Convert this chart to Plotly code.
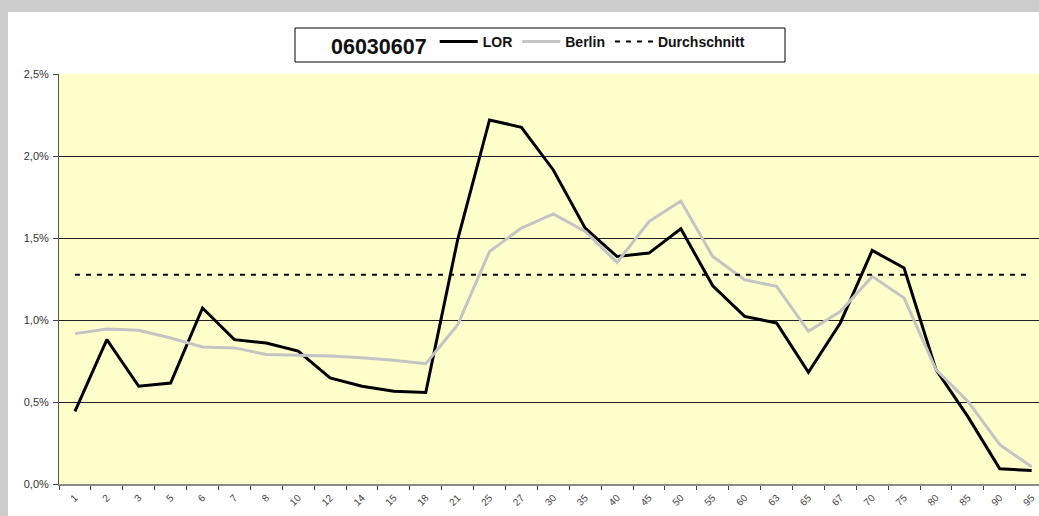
import plotly.graph_objects as go

# ---- data ----
age_groups = ["1", "2", "3", "5", "6", "7", "8", "10", "12", "14", "15", "18", "21", "25", "27",
              "30", "35", "40", "45", "50", "55", "60", "63", "65", "67", "70", "75", "80", "85",
              "90", "95"]
lor_values = [0.443, 0.88, 0.596, 0.616, 1.073, 0.88, 0.86, 0.81, 0.647, 0.596, 0.565, 0.558,
              1.489, 2.22, 2.175, 1.915, 1.56, 1.387, 1.408, 1.556, 1.209, 1.022, 0.982, 0.681,
              0.982, 1.424, 1.317, 0.697, 0.411, 0.093, 0.082]
berlin_values = [0.917, 0.945, 0.937, 0.89, 0.835, 0.83, 0.79, 0.785, 0.78, 0.77, 0.755, 0.734,
                 0.97, 1.418, 1.56, 1.647, 1.54, 1.351, 1.60, 1.725, 1.387, 1.245, 1.205, 0.931,
                 1.052, 1.266, 1.134, 0.697, 0.504, 0.24, 0.105]
average_value = 1.276
legend_title = "06030607"
series_names = ["LOR", "Berlin", "Durchschnitt"]
y_ticks = [0.0, 0.5, 1.0, 1.5, 2.0, 2.5]
y_ticktext = ["0,0%", "0,5%", "1,0%", "1,5%", "2,0%", "2,5%"]

W, H = 1039, 516
ML, MR, MT, MB = 59, 0, 74, 32
PW, PH = W - ML - MR, H - MT - MB


def px_x(p):
    return (p - ML) / PW


def px_y(p):
    return 1 - (p - MT) / PH


FONT = "Liberation Sans, Arial, sans-serif"
CAT_W = 31.89  # pixel width of one category in the reference
x_max = -0.5 + PW / CAT_W

fig = go.Figure()
fig.add_trace(go.Scatter(x=age_groups, y=[v / 100 for v in lor_values], mode="lines",
                         name=series_names[0], line=dict(color="black", width=3)))
fig.add_trace(go.Scatter(x=age_groups, y=[v / 100 for v in berlin_values], mode="lines",
                         name=series_names[1], line=dict(color="#c4c4c4", width=3)))
fig.add_trace(go.Scatter(x=age_groups, y=[average_value / 100] * len(age_groups), mode="lines",
                         name=series_names[2], line=dict(color="black", width=2, dash="5px,6px")))

shapes = [
    # grey frame strips (top and left)
    dict(type="rect", xref="paper", yref="paper", x0=px_x(0), x1=px_x(W), y0=px_y(12), y1=px_y(0),
         fillcolor="#cccccc", line=dict(width=0), layer="below"),
    dict(type="rect", xref="paper", yref="paper", x0=px_x(0), x1=px_x(8), y0=px_y(H), y1=px_y(0),
         fillcolor="#cccccc", line=dict(width=0), layer="below"),
    # legend box
    dict(type="rect", xref="paper", yref="paper", x0=px_x(295), x1=px_x(785), y0=px_y(62), y1=px_y(28),
         fillcolor="white", line=dict(color="black", width=1), layer="below"),
]

fig.update_layout(
    width=W, height=H, autosize=False,
    margin=dict(l=ML, r=MR, t=MT, b=MB, pad=0),
    paper_bgcolor="white",
    plot_bgcolor="#ffffcc",
    shapes=shapes,
    font=dict(family=FONT, color="#222"),
    legend=dict(
        orientation="h",
        x=px_x(329), xanchor="left",
        y=px_y(45), yanchor="middle",
        bgcolor="rgba(0,0,0,0)", borderwidth=0,
        title=dict(text=legend_title, font=dict(size=21.5, color="#111", family=FONT, weight="bold")),
        font=dict(size=14, color="#111", family=FONT, weight="bold"),
        itemwidth=38,
        traceorder="normal",
    ),
    xaxis=dict(
        type="category",
        tickson="boundaries",
        ticks="outside", ticklen=4, tickcolor="#444", tickwidth=1,
        tickangle=-45,
        ticklabelstandoff=2,
        tickfont=dict(size=10, color="#444", family=FONT),
        showline=True, linecolor="#8a8a8a", linewidth=2,
        showgrid=False, zeroline=False,
        range=[-0.5, x_max],
    ),
    yaxis=dict(
        range=[0, 0.025],
        tickvals=[v / 100 for v in y_ticks],
        ticktext=y_ticktext,
        ticks="outside", ticklen=5, tickcolor="#444",
        ticklabelstandoff=2,
        tickfont=dict(size=11, color="#333", family=FONT),
        showline=True, linecolor="#555", linewidth=1,
        showgrid=True, gridcolor="#222", gridwidth=1,
        zeroline=False,
    ),
)

fig.write_html(
    "out.html",
    config={"displayModeBar": False},
    post_script="document.body.style.margin='0';document.body.style.overflow='hidden';",
)
